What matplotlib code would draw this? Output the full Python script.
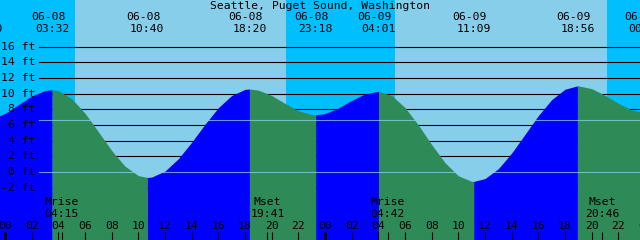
import numpy as np
import matplotlib
matplotlib.use("Agg")
from matplotlib import pyplot as plt
from matplotlib.transforms import blended_transform_factory

# water level (ft), one value per hour from 06-08 00:00
hours = np.arange(-1, 49)
levels = [6.79, 7.47, 8.58, 9.70, 10.40,                      # -1 .. 3
          10.38, 9.37, 7.51, 5.15, 2.74, 0.74, -0.46,         # 4 .. 10
          -0.65, 0.12, 1.69, 3.80, 6.10, 8.21, 9.77, 10.55,   # 11 .. 18
          10.46, 9.77, 8.76, 7.83, 7.33,                      # 19 .. 23
          7.46, 8.16, 9.14, 9.97, 10.30,                      # 24 .. 28
          9.77, 8.24, 6.01, 3.50, 1.19, -0.48, -1.19,         # 29 .. 35
          -0.84, 0.42, 2.41, 4.80, 7.20, 9.24, 10.57,         # 36 .. 42
          11.00, 10.65, 9.80, 8.77, 7.93, 7.60]               # 43 .. 48

# high / low tide events
ev_hours = [-1.5, 3.533, 10.667, 18.333, 23.3, 28.017, 35.15, 42.933, 48.03]
ev_levels = [6.7, 10.5, -0.7, 10.6, 7.3, 10.3, -1.2, 11.0, 7.6]
ev_dates = ["06-07", "06-08", "06-08", "06-08", "06-08", "06-09", "06-09", "06-09", "06-10"]
ev_times = ["22:30", "03:32", "10:40", "18:20", "23:18", "04:01", "11:09", "18:56", "00:02"]

sunrise = [5.25, 29.25]
sunset = [21.07, 45.15]

moon_hours = [4.25, 19.683, 28.7, 44.767]
moon_names = ["Mrise", "Mset", "Mrise", "Mset"]
moon_times = ["04:15", "19:41", "04:42", "20:46"]

depths = [16, 14, 12, 10, 8, 6, 4, 2, -2]
datum = 0
msl = 6.6

title = "Seattle, Puget Sound, Washington"

# pixel geometry of the picture
W, H = 640, 240
PX_H = 13.333      # pixels per hour
X0 = 5             # pixel of 06-08 00:00
Y0 = 172           # pixel of 0 ft
PX_FT = 7.83       # pixels per foot

night = "#00BFFF"
day = "#87CEEB"
rising = "#0000FF"
falling = "#2E8B57"
font = dict(family="DejaVu Sans Mono", fontsize=8.2, color="black")

fig = plt.figure(figsize=(6.4, 2.4), dpi=100)
ax = fig.add_axes([0, 0, 1, 1])
ax.set_axis_off()
ax.set_xlim(-X0 / PX_H, (W - X0) / PX_H)
ax.set_ylim((Y0 - H) / PX_FT, Y0 / PX_FT)
ylo = (Y0 - H) / PX_FT


def fy(py):
    return 1 - py / H


tx = blended_transform_factory(ax.transData, ax.transAxes)
ty = blended_transform_factory(ax.transAxes, ax.transData)

# sky
ax.axvspan(-10, 60, color=night, lw=0, zorder=0)
for r, s in zip(sunrise, sunset):
    ax.axvspan(r, s, color=day, lw=0, zorder=0)

# depth lines and labels
for d in depths:
    ax.axhline(d, xmin=39 / W, xmax=1, color="black", lw=0.8, zorder=1)
for d in depths[:-1] + [datum, -2]:
    ax.text(35 / W, d, "%d ft" % d, transform=ty, ha="right", va="center",
            zorder=5, **font)

# water, coloured by rising / falling
for i in range(len(ev_hours) - 1):
    t0, t1 = ev_hours[i], ev_hours[i + 1]
    m = (hours > t0) & (hours < t1)
    xs = np.concatenate([[t0], hours[m], [t1]])
    ys = np.concatenate([[ev_levels[i]], np.array(levels)[m], [ev_levels[i + 1]]])
    c = rising if ev_levels[i + 1] > ev_levels[i] else falling
    ax.fill_between(xs, ys, ylo, color=c, lw=0, zorder=2)

# datum and mean level
for lv in (datum, msl):
    ax.axhline(lv, xmin=39 / W, xmax=1, color=day, lw=0.8, alpha=0.75, zorder=3)

# title and tide event labels
ax.text(0.5, fy(6), title, transform=ax.transAxes, ha="center", va="center", **font)
for h, d, t in zip(ev_hours, ev_dates, ev_times):
    ax.text(h - 4 / PX_H, fy(17.5), d, transform=tx, ha="center", va="center", **font)
    ax.text(h, fy(29), t, transform=tx, ha="center", va="center", **font)

# moon events
for h, n, t in zip(moon_hours, moon_names, moon_times):
    ax.text(h, fy(202), n, transform=tx, ha="center", va="center", zorder=5, **font)
    ax.text(h, fy(214), t, transform=tx, ha="center", va="center", zorder=5, **font)
    ax.vlines(h, 0, fy(232), transform=tx, color="black", lw=0.8, zorder=5)

# hour ticks
for h in range(0, 49, 2):
    ax.text(h, fy(226), "%02d" % (h % 24), transform=tx, ha="center", va="center",
            zorder=5, **font)
    lw = 2.2 if h % 24 == 0 else 0.8
    ax.vlines(h, 0, fy(232), transform=tx, color="black", lw=lw, zorder=5)

fig.savefig("out.png", dpi=100)
